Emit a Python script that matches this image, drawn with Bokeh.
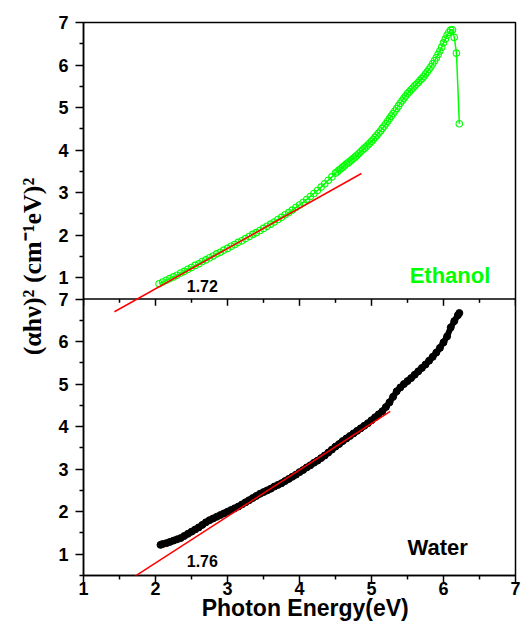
from bokeh.plotting import figure
from bokeh.models import Range1d, FixedTicker, CustomJSTickFormatter, Span, Label, Arrow
from bokeh.embed import file_html
from bokeh.resources import INLINE

# ---------------- data ----------------
x_ticks = [1, 2, 3, 4, 5, 6, 7]
y_ticks = [1, 2, 3, 4, 5, 6, 7]

eth_x = [2.05, 2.10, 2.15, 2.20, 2.25, 2.30, 2.35, 2.40, 2.45, 2.50,
         2.55, 2.60, 2.65, 2.70, 2.75, 2.80, 2.85, 2.90, 2.95, 3.00,
         3.05, 3.10, 3.15, 3.20, 3.25, 3.30, 3.35, 3.40, 3.45, 3.50,
         3.55, 3.60, 3.65, 3.70, 3.75, 3.80, 3.85, 3.90, 3.95, 4.00,
         4.05, 4.10, 4.15, 4.20, 4.25, 4.30, 4.35, 4.40, 4.45, 4.50,
         4.525, 4.55, 4.575, 4.60, 4.625, 4.65, 4.675, 4.70, 4.725, 4.75,
         4.775, 4.80, 4.825, 4.85, 4.875, 4.90, 4.925, 4.95, 4.975, 5.00,
         5.025, 5.05, 5.075, 5.10, 5.125, 5.15, 5.175, 5.20, 5.225, 5.25,
         5.275, 5.30, 5.325, 5.35, 5.375, 5.40, 5.425, 5.45, 5.475, 5.50,
         5.525, 5.55, 5.575, 5.60, 5.625, 5.65, 5.675, 5.70, 5.725, 5.75,
         5.775, 5.80, 5.825, 5.85, 5.875, 5.90, 5.925, 5.95, 5.975, 6.00,
         6.025, 6.05, 6.075, 6.10, 6.125, 6.15, 6.18, 6.22]
eth_y = [0.86, 0.90, 0.94, 0.98, 1.02, 1.06, 1.11, 1.15, 1.20, 1.24,
         1.29, 1.33, 1.38, 1.42, 1.47, 1.51, 1.56, 1.60, 1.65, 1.69,
         1.74, 1.78, 1.83, 1.87, 1.92, 1.97, 2.02, 2.06, 2.11, 2.16,
         2.21, 2.26, 2.31, 2.37, 2.42, 2.48, 2.53, 2.59, 2.65, 2.71,
         2.77, 2.84, 2.91, 2.98, 3.05, 3.13, 3.21, 3.29, 3.37, 3.46,
         3.49, 3.53, 3.56, 3.60, 3.63, 3.67, 3.70, 3.74, 3.77, 3.81,
         3.84, 3.88, 3.92, 3.96, 4.00, 4.04, 4.08, 4.12, 4.16, 4.21,
         4.25, 4.30, 4.35, 4.40, 4.45, 4.51, 4.56, 4.62, 4.68, 4.74,
         4.80, 4.86, 4.92, 4.98, 5.04, 5.10, 5.16, 5.22, 5.27, 5.33,
         5.37, 5.42, 5.46, 5.51, 5.55, 5.59, 5.64, 5.68, 5.73, 5.79,
         5.84, 5.90, 5.96, 6.03, 6.10, 6.17, 6.25, 6.33, 6.42, 6.52,
         6.61, 6.70, 6.77, 6.82, 6.83, 6.65, 6.28, 4.62]

wat_x = [2.07, 2.10, 2.15, 2.20, 2.25, 2.30, 2.35, 2.40, 2.45, 2.50,
         2.55, 2.60, 2.65, 2.70, 2.75, 2.80, 2.85, 2.90, 2.95, 3.00,
         3.05, 3.10, 3.15, 3.20, 3.25, 3.30, 3.35, 3.40, 3.45, 3.50,
         3.55, 3.60, 3.65, 3.70, 3.75, 3.80, 3.85, 3.90, 3.95, 4.00,
         4.05, 4.10, 4.15, 4.20, 4.25, 4.30, 4.35, 4.40, 4.45, 4.50,
         4.55, 4.60, 4.65, 4.70, 4.75, 4.80, 4.85, 4.90, 4.95, 5.00,
         5.05, 5.10, 5.15, 5.20, 5.25, 5.30, 5.35, 5.40, 5.45, 5.50,
         5.55, 5.60, 5.65, 5.70, 5.75, 5.80, 5.85, 5.90, 5.95, 6.00,
         6.05, 6.10, 6.15, 6.20, 6.22]
wat_y = [1.22, 1.24, 1.26, 1.29, 1.32, 1.35, 1.38, 1.43, 1.48, 1.53,
         1.58, 1.63, 1.69, 1.75, 1.80, 1.84, 1.88, 1.92, 1.96, 2.00,
         2.04, 2.08, 2.12, 2.17, 2.22, 2.27, 2.32, 2.37, 2.42, 2.46,
         2.50, 2.54, 2.59, 2.63, 2.67, 2.72, 2.77, 2.82, 2.87, 2.93,
         2.98, 3.04, 3.09, 3.15, 3.20, 3.26, 3.32, 3.39, 3.46, 3.53,
         3.59, 3.66, 3.72, 3.78, 3.84, 3.90, 3.96, 4.02, 4.08, 4.15,
         4.22, 4.29, 4.36, 4.46, 4.57, 4.70, 4.83, 4.92, 5.00, 5.07,
         5.14, 5.22, 5.30, 5.38, 5.46, 5.55, 5.64, 5.74, 5.85, 5.98,
         6.12, 6.33, 6.48, 6.62, 6.67]

fit_eth_x = [1.43, 4.86]
fit_eth_y = [0.20, 3.45]
fit_wat_x = [1.43, 5.26]
fit_wat_y = [0.17, 4.36]

gap_eth = 1.72
gap_wat = 1.76

x_title = "Photon Energy(eV)"
y_title = "(\u03b1h\u03bd)\u00b2 (cm\u207b\u00b9eV)\u00b2"

# ---------------- figure ----------------
LO, HI = 0.5, 7.0
SPAN = HI - LO
GREEN = "#00ff00"
FONT = "Liberation Sans"

p = figure(width=521, height=623, x_range=Range1d(1, 7),
           y_range=Range1d(LO, HI + SPAN),
           output_backend="svg", toolbar_location=None,
           min_border_left=83, min_border_right=6,
           min_border_top=22, min_border_bottom=46)
p.extra_y_ranges = {"top": Range1d(LO - SPAN, HI)}

p.xgrid.visible = False
p.ygrid.visible = False
p.outline_line_color = "black"
p.outline_line_width = 1.5
p.background_fill_color = "white"
p.border_fill_color = "white"

x_minor = [t + 0.5 for t in x_ticks[:-1]]
p.xaxis.ticker = FixedTicker(ticks=x_ticks, minor_ticks=x_minor)
y_major = y_ticks + [t + SPAN for t in y_ticks]
y_minor = [LO] + [t + 0.5 for t in y_ticks[:-1]] + [t + 0.5 + SPAN for t in y_ticks[:-1]]
p.yaxis.ticker = FixedTicker(ticks=y_major, minor_ticks=y_minor)
p.yaxis.formatter = CustomJSTickFormatter(
    code="return String(Math.round(tick > 7.25 ? tick - 6.5 : tick));")

for ax in (p.xaxis[0], p.yaxis[0]):
    ax.axis_line_width = 1.5
    ax.axis_line_color = "black"
    ax.major_tick_line_width = 1.5
    ax.minor_tick_line_width = 1.5
    ax.major_tick_line_color = "black"
    ax.minor_tick_line_color = "black"
    ax.major_tick_out = 8
    ax.major_tick_in = 0
    ax.minor_tick_out = 4
    ax.minor_tick_in = 0
    ax.major_label_text_font = FONT
    ax.major_label_text_font_style = "bold"
    ax.major_label_text_font_size = "18px"
    ax.major_label_text_color = "black"
    ax.axis_label_text_color = "black"
    ax.axis_label_text_font_style = "bold"

xa = p.xaxis[0]
# a leading en space nudges the title slightly right, as in the reference
xa.axis_label = "\u2002" + x_title
xa.axis_label_text_font = FONT
xa.axis_label_text_font_size = "23px"
xa.major_label_standoff = -2
xa.axis_label_standoff = -3

ya = p.yaxis[0]
# leading spaces nudge the rotated title upward, as in the reference
ya.axis_label = "\u2003\u2003\u2002" + y_title
ya.axis_label_text_font = "Liberation Serif"
ya.axis_label_text_font_size = "26px"
ya.major_label_standoff = 7
ya.axis_label_standoff = 8

# separator between the two panels, with its downward ticks
p.add_layout(Span(location=HI, dimension="width", line_color="black", line_width=1.5))
p.segment(x0=x_ticks, y0=[HI] * len(x_ticks), x1=x_ticks, y1=[HI - 0.16] * len(x_ticks),
          line_color="black", line_width=1.5)
p.segment(x0=x_minor, y0=[HI] * len(x_minor), x1=x_minor, y1=[HI - 0.09] * len(x_minor),
          line_color="black", line_width=1.5)

# ethanol (top panel)
p.line(eth_x, eth_y, y_range_name="top", line_color=GREEN, line_width=1.5)
p.scatter(eth_x, eth_y, y_range_name="top", marker="circle", size=6.5,
          line_color=GREEN, line_width=1.1, fill_alpha=0)

# water (bottom panel)
p.line(wat_x, wat_y, line_color="black", line_width=6)
p.scatter(wat_x, wat_y, marker="circle", size=7, line_color="black", fill_color="black")

# tangent (Tauc) lines
p.add_layout(Arrow(end=None, x_start=fit_eth_x[0], y_start=fit_eth_y[0],
                   x_end=fit_eth_x[1], y_end=fit_eth_y[1],
                   line_color="red", line_width=1.5, y_range_name="top"))
p.add_layout(Arrow(end=None, x_start=fit_wat_x[0], y_start=fit_wat_y[0],
                   x_end=fit_wat_x[1], y_end=fit_wat_y[1],
                   line_color="red", line_width=1.5))

# annotations
def lab(x, y, text, size, color="black", rng="default"):
    kw = {}
    if rng != "default":
        kw["y_range_name"] = rng
    p.add_layout(Label(x=x, y=y, text=text, text_font=FONT, text_font_style="bold",
                       text_font_size=size, text_color=color,
                       text_align="center", text_baseline="middle", **kw))

lab(2.65, 0.81, f"{gap_eth:.2f}", "16px", rng="top")
lab(2.65, 0.84, f"{gap_wat:.2f}", "16px")
lab(6.09, 1.05, "Ethanol", "22px", color=GREEN, rng="top")
lab(5.92, 1.15, "Water", "22px")

open("out.html", "w").write(file_html(p, INLINE))
